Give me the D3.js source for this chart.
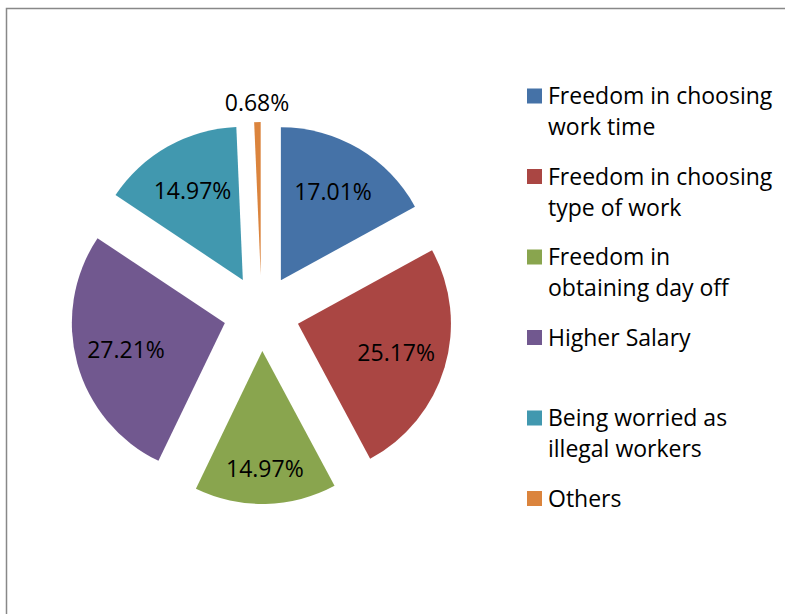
<!DOCTYPE html>
<html><head><meta charset="utf-8">
<script src="https://cdn.jsdelivr.net/npm/d3@7"></script>
<style>body{margin:0;background:#fff}svg{display:block}text{font-family:"Open Sans","Noto Sans",sans-serif;fill:#000}</style>
</head><body>
<svg id="c" width="785" height="614"></svg>
<script>
const categories = ["Freedom in choosing work time","Freedom in choosing type of work","Freedom in obtaining day off","Higher Salary","Being worried as illegal workers","Others"];
const legendLines = [["Freedom in choosing","work time"],["Freedom in choosing","type of work"],["Freedom in","obtaining day off"],["Higher Salary"],["Being worried as","illegal workers"],["Others"]];
const values = [17.01,25.17,14.97,27.21,14.97,0.68];
const labels = ["17.01%","25.17%","14.97%","27.21%","14.97%","0.68%"];
const colors = ["#4572A7","#AA4643","#89A54E","#71588F","#4198AF","#DB843D"];

const svg = d3.select("#c");
svg.append("rect").attr("x",6.5).attr("y",8.5).attr("width",800).attr("height",620)
  .attr("fill","none").attr("stroke","#888").attr("stroke-width",1.5);

const cx = 261.5, cy = 313, r = 153, explode = 38;
const pie = d3.pie().sort(null).value(d=>d);
const arcs = pie(values);
const arc = d3.arc().innerRadius(0).outerRadius(r);
const g = svg.append("g").attr("transform",`translate(${cx},${cy})`);

arcs.forEach((a,i)=>{
  const mid = (a.startAngle+a.endAngle)/2;
  const dx = Math.sin(mid), dy = -Math.cos(mid);
  g.append("path").attr("d",arc(a)).attr("fill",colors[i])
    .attr("transform",`translate(${dx*explode},${dy*explode})`);
  const small = (a.endAngle-a.startAngle) < 0.1;
  let d;
  if (small) d = explode + r + 19;
  else d = explode + r*(Math.cos(mid) < -0.9 ? 0.77 : 0.67);
  g.append("text").attr("x",dx*d).attr("y",dy*d+8).attr("text-anchor","middle")
    .attr("font-size",23).text(labels[i]);
});

const lg = svg.append("g");
legendLines.forEach((lines,i)=>{
  const yc = 96 + i*80.5;
  lg.append("rect").attr("x",527).attr("y",yc-7.5).attr("width",15).attr("height",15).attr("fill",colors[i]);
  lines.forEach((t,j)=>{
    lg.append("text").attr("x",548).attr("y",yc+8+j*31).attr("font-size",23).text(t);
  });
});
</script>
</body></html>
